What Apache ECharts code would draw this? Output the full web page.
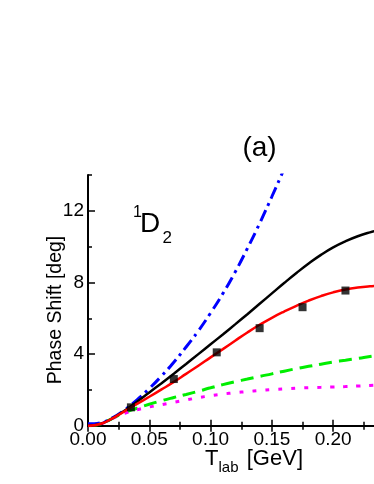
<!DOCTYPE html>
<html>
<head>
<meta charset="utf-8">
<script src="https://cdn.jsdelivr.net/npm/echarts@6/dist/echarts.min.js"></script>
<style>html,body{margin:0;padding:0;background:#fff}#c{width:374px;height:484px}</style>
</head>
<body>
<div id="c"></div>
<script>
// ---- data ----
const tCurve = [0,0.01,0.02,0.03,0.04,0.05,0.06,0.07,0.08,0.09,0.10,0.11,0.12,0.13,0.14,0.15,0.16,0.17,0.18,0.19,0.20,0.21,0.22,0.23,0.24];
const redVals = [0,0.1,0.42,0.82,1.22,1.62,2.03,2.45,2.9,3.35,3.82,4.28,4.75,5.21,5.64,6.03,6.38,6.7,6.99,7.24,7.45,7.61,7.72,7.79,7.83];
const blackVals = [0,0.1,0.42,0.85,1.34,1.86,2.38,2.91,3.45,4.0,4.55,5.1,5.66,6.23,6.81,7.39,7.97,8.53,9.06,9.54,9.96,10.3,10.58,10.8,10.98];
const greenVals = [0,0.1,0.42,0.74,0.98,1.2,1.4,1.58,1.75,1.93,2.12,2.3,2.46,2.61,2.76,2.9,3.05,3.19,3.32,3.44,3.56,3.66,3.76,3.87,3.97];
const magentaVals = [0,0.1,0.42,0.7,0.9,1.05,1.18,1.31,1.44,1.57,1.68,1.77,1.85,1.91,1.97,2.02,2.06,2.1,2.13,2.15,2.17,2.19,2.22,2.25,2.28];
const tBlue = [0,0.005,0.01,0.02,0.03,0.04,0.05,0.06,0.07,0.08,0.09,0.10,0.11,0.12,0.13,0.14,0.15,0.16,0.17];
const blueVals = [0.12,0.12,0.16,0.45,0.9,1.45,2.08,2.78,3.55,4.4,5.3,6.3,7.38,8.58,9.9,11.3,12.8,14.35,15.95];
const expT = [0.035,0.07,0.105,0.14,0.175,0.21];
const expV = [1.03,2.61,4.1,5.45,6.62,7.55];
const xTicks = [0,0.05,0.10,0.15,0.20,0.25];
const yTicks = [0,4,8,12];

// ---- chart ----
const pairs = (xs, ys) => xs.map((x, i) => [x, ys[i]]);
const FF = '"Liberation Sans", Arial, Helvetica, sans-serif';
const chart = echarts.init(document.getElementById('c'), null, {renderer: 'canvas'});

const lineSeries = (name, xs, ys, color, width, type) => ({
  name, type: 'line', data: pairs(xs, ys), showSymbol: false, smooth: 0.5,
  lineStyle: {color, width, type}, clip: true, silent: true, z: 2
});

const option = {
  animation: false,
  backgroundColor: '#fff',
  grid: {left: 88, top: 175, width: 306.5, height: 250.8, containLabel: false, outerBoundsMode: 'none'},
  xAxis: [
    {type: 'value', position: 'bottom', min: xTicks[0], max: xTicks[xTicks.length-1], interval: 0.05,
     axisLine: {show: true, lineStyle: {color: '#000', width: 2}},
     axisTick: {show: true, inside: true, length: 6, lineStyle: {color: '#000', width: 1.5}},
     minorTick: {show: true, splitNumber: 2, length: 4, lineStyle: {color: '#000', width: 1.5}},
     splitLine: {show: false}, minorSplitLine: {show: false},
     axisLabel: {fontSize: 19, fontFamily: FF, color: '#000', margin: 4,
       formatter: v => v.toFixed(2)}},
    {type: 'value', position: 'top', min: xTicks[0], max: xTicks[xTicks.length-1], interval: 0.05,
     axisLine: {show: true, lineStyle: {color: '#000', width: 2}},
     axisTick: {show: true, inside: true, length: 6, lineStyle: {color: '#000', width: 1.5}},
     minorTick: {show: true, splitNumber: 2, length: 4, lineStyle: {color: '#000', width: 1.5}},
     splitLine: {show: false}, axisLabel: {show: false}}
  ],
  yAxis: [
    {type: 'value', position: 'left', min: 0, max: 14, interval: 4,
     axisLine: {show: true, lineStyle: {color: '#000', width: 2}},
     axisTick: {show: true, inside: true, length: 7, lineStyle: {color: '#000', width: 1.5}},
     splitLine: {show: false},
     axisLabel: {fontSize: 19, fontFamily: FF, color: '#000', margin: 4, showMaxLabel: false,
       formatter: v => (yTicks.indexOf(v) >= 0 ? String(v) : '')}},
    {type: 'value', position: 'left', min: 0, max: 14, interval: 2,
     axisLine: {show: false},
     axisTick: {show: true, inside: true, length: 4, lineStyle: {color: '#000', width: 1.5}},
     splitLine: {show: false}, axisLabel: {show: false}}
  ],
  series: [
    lineSeries('green', tCurve, greenVals, '#00ee00', 3, [13, 7]),
    lineSeries('magenta', tCurve, magentaVals, '#ff00ff', 3, [4, 9]),
    lineSeries('blue', tBlue, blueVals, '#0000ff', 3, [12, 5, 3, 5]),
    lineSeries('black', tCurve, blackVals, '#000000', 2.5, 'solid'),
    lineSeries('red', tCurve, redVals, '#ff0000', 2.5, 'solid'),
    {name: 'data', type: 'scatter', data: pairs(expT, expV), symbol: 'rect', symbolSize: 8,
     itemStyle: {color: '#000'}, z: 5, silent: true}
  ],
  graphic: [
    {type: 'text', x: 259.5, y: 148, style: {text: '(a)', fontSize: 28, fontFamily: FF, fill: '#000', align: 'center', verticalAlign: 'middle'}},
    {type: 'text', x: 133, y: 212.5, style: {text: '1', fontSize: 16, fontFamily: FF, fill: '#000', align: 'left', verticalAlign: 'middle'}},
    {type: 'text', x: 140, y: 224, style: {text: 'D', fontSize: 28, fontFamily: FF, fill: '#000', align: 'left', verticalAlign: 'middle'}},
    {type: 'text', x: 162.5, y: 238, style: {text: '2', fontSize: 17, fontFamily: FF, fill: '#000', align: 'left', verticalAlign: 'middle'}},
    {type: 'text', x: 56, y: 310, rotation: Math.PI / 2, style: {text: 'Phase Shift [deg]', fontSize: 19.5, fontFamily: FF, fill: '#000', align: 'center', verticalAlign: 'middle'}},
    {type: 'text', x: 205, y: 458.5, style: {text: 'T', fontSize: 22, fontFamily: FF, fill: '#000', align: 'left', verticalAlign: 'middle'}},
    {type: 'text', x: 218.5, y: 467.5, style: {text: 'lab', fontSize: 15, fontFamily: FF, fill: '#000', align: 'left', verticalAlign: 'middle'}},
    {type: 'text', x: 303, y: 458.5, style: {text: '[GeV]', fontSize: 22, fontFamily: FF, fill: '#000', align: 'right', verticalAlign: 'middle'}}
  ]
};
chart.setOption(option);
</script>
</body>
</html>
